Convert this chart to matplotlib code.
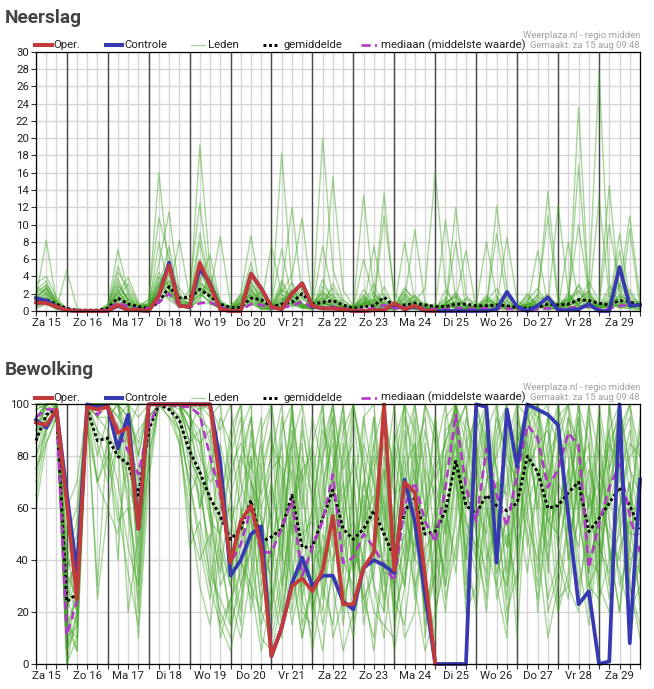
import numpy as np
import matplotlib
matplotlib.use('Agg')
import matplotlib.pyplot as plt
from matplotlib.lines import Line2D

plt.rcParams['font.family'] = ['Roboto', 'DejaVu Sans']

W, H = 654, 689

# ---------------- data ----------------
# time axis: 6-hourly steps, hours since Za 15 00:00, first value at 06:00
STEP_H = 6
START_H = 6
day_labels = ['Za 15', 'Zo 16', 'Ma 17', 'Di 18', 'Wo 19', 'Do 20', 'Vr 21', 'Za 22',
              'Zo 23', 'Ma 24', 'Di 25', 'Wo 26', 'Do 27', 'Vr 28', 'Za 29']

# Neerslag (mm)
neerslag_oper = [1.0,0.9,0.5, 0.1,0,0,0, 0,0.7,0.1,0.1, 0,1.8,5.3,0.6, 0.5,5.6,3.0,0.2,
                 0,0,4.3,2.6, 0.5,0.2,2.0,3.2, 0.6,0.3,0.3,0.2, 0,0,0.1,0.1, 0.9,0.2,0.6,0.05, 0]
neerslag_controle = [1.5,1.2,0.5, 0.1,0,0,0, 0,0.6,0.1,0.1, 0,1.8,5.6,0.6, 0.5,4.9,3.2,0.2,
                     0,0,4.3,2.6, 0.5,0.2,2.0,3.2, 0.5,0.3,0.3,0.2, 0,0,0.1,0.1, 0.8,0.2,0.5,0.05,
                     0,0,0,0, 0,0,0.2,2.2, 0.5,0,0.6,1.6, 0.1,0.1,0.2,0.8, 0,0,5.1,0.6, 0.7]
neerslag_gemiddelde = [1.1,1.3,0.8, 0.3,0.1,0.1,0.1, 0.3,1.5,0.8,0.5, 0.3,1.0,2.8,1.5, 1.6,2.5,1.7,0.8,
                       0.4,0.4,1.5,1.3, 0.5,0.8,1.0,2.0, 0.8,1.0,1.2,0.7, 0.3,0.5,0.6,1.6, 0.5,0.7,0.9,0.7,
                       0.5,0.5,0.8,0.8, 0.6,0.6,0.7,0.6, 0.4,0.3,0.4,0.8, 0.7,0.8,1.3,1.2, 0.9,0.7,1.2,1.1, 0.6]
neerslag_mediaan = [0.8,1.0,0.4, 0.1,0,0,0, 0.2,1.0,0.5,0.2, 0.3,1.0,2.0,0.7, 0.4,0.9,1.0,0.5,
                    0.1,0.1,0.8,0.7, 0.3,0.4,0.6,1.1, 0.4,0.4,0.5,0.3, 0.1,0.2,0.3,0.7, 0.3,0.4,0.5,0.3,
                    0.2,0.2,0.3,0.3, 0.2,0.3,0.3,0.3, 0.1,0.1,0.2,0.3, 0.2,0.3,0.5,0.5, 0.2,0.3,0.6,0.7, 0.6]
neerslag_leden = [
    [0.8,2.1,0.5, 0,0,0,0, 0.3,1.8,0.6,0.2, 0.5,3.2,4.8,1.1, 0.8,4.2,2.6,0.4, 0.1,1.2,2.8,0.6, 0.2,1.5,0.8,0.3, 0.6,2.4,1.2,0.2, 0.1,0.8,3.1,0.5, 0.2,1.1,0.4,0.1, 0,0.4,1.2,7.0, 0.2,0.6,0.3,0.1, 0.4,1.8,0.6,0.2, 0.3,0.9,2.2,0.8, 0.2,0.5,7.0,0.4, 0.6],
    [1.5,8.2,1.0, 0.2,0,0,0, 0.1,2.6,1.2,0.3, 0.8,16.0,4.1,0.6, 0.3,2.1,1.0,0.2, 0,0.6,1.4,0.3, 0.1,3.2,1.1,0.5, 0.2,1.8,0.6,0.1, 0.3,2.5,0.9,0.2, 0.1,0.6,0.2,0, 0.2,1.6,0.5,0.3, 0.1,0.4,1.2,0.2, 0.3,0.9,0.3,0.1, 0.4,2.1,0.6,0.3, 0.5,1.4,0.4,9.5, 0.3],
    [2.4,3.5,0.9, 0.1,0,0,0, 0.4,7.1,2.2,0.6, 1.2,5.4,11.5,2.0, 0.7,19.2,4.6,1.1, 0.3,2.0,8.7,1.6, 0.5,18.3,3.0,0.8, 0.4,3.6,1.2,0.3, 0.2,1.4,0.5,0.6, 0.3,2.5,1.5,0.4, 0.2,0.8,0.4,0.1, 0.3,1.1,2.6,0.6, 0.2,0.5,1.9,1.0, 0.4,0.6,23.6,2.0, 0.6,0.3,0.8,0.5, 0.2],
    [1.2,2.8,0.7, 0,0,0.1,0, 0.2,1.4,3.2,0.8, 0.4,2.6,7.5,1.5, 1.3,3.5,6.5,0.9, 0.2,0.8,2.1,1.1, 0.3,2.2,4.1,10.8, 0.9,1.5,0.4,0.2, 0.6,1.2,0.3,2.8, 0.4,1.3,9.4,1.0, 0.3,0.6,2.2,0.5, 0.1,0.3,0.9,0.4, 0.2,1.2,2.6,0.7, 0.5,1.8,0.9,3.4, 1.1,14.5,1.6,0.4, 0.9],
    [3.2,4.0,1.6, 0.2,0,0,0, 0.6,3.8,1.0,0.3, 0.9,4.5,2.8,0.7, 2.4,12.5,3.1,0.5, 0.1,1.7,0.9,0.2, 0.4,1.0,2.5,0.6, 0.3,20.0,4.8,1.2, 0.5,0.9,0.4,1.6, 0.2,0.7,1.8,0.6, 0.1,2.4,0.6,0.2, 0.5,1.3,0.4,0.9, 0.3,0.8,0.5,1.4, 0.6,0.4,1.2,2.3, 0.8,10.0,2.4,0.7, 0.4],
    [0.5,1.4,0.3, 4.7,0.3,0,0, 0,1.1,0.4,0.1, 0.3,1.8,3.6,0.8, 0.5,2.9,1.7,0.6, 0.2,0.4,3.4,0.9, 0.6,2.8,12.0,1.9, 0.2,0.9,0.5,0.2, 0.1,0.6,0.9,13.6, 1.2,0.4,0.2,0.5, 0.2,0.9,1.7,0.4, 0.2,0.6,1.4,0.3, 0.5,2.0,0.7,0.3, 0.2,8.0,1.1,0.6, 0.3,1.2,0.6,2.1, 0.5],
    [1.8,2.6,0.8, 0.1,0,0,0, 0.5,5.2,1.8,0.2, 0.6,3.9,2.4,1.2, 0.9,3.3,2.2,8.6, 0.7,1.5,1.8,0.4, 0.3,0.9,1.6,0.7, 0.4,1.2,2.6,0.8, 0.5,13.4,2.1,0.4, 0.3,1.8,0.6,0.2, 0.4,0.7,0.3,1.3, 0.6,0.2,0.5,1.9, 0.2,0.6,0.4,0.8, 0.3,1.5,10.0,1.8, 0.4,0.9,0.3,0.6, 0.8],
    [0.9,1.7,0.4, 0,0,0,0, 0.2,0.9,0.5,0.4, 1.4,10.8,6.2,0.9, 0.4,5.6,1.4,0.3, 0.2,0.9,1.1,0.7, 0.2,1.4,0.6,2.3, 0.5,7.5,1.8,0.4, 0.2,0.5,1.8,0.9, 0.5,0.3,1.1,2.6, 16.1,2.8,0.6,0.2, 0.3,0.9,0.2,0.5, 0.6,0.3,1.6,0.9, 0.4,0.8,2.9,0.7, 13.0,1.6,0.5,0.2, 0.1],
    [2.0,3.1,1.1, 0.3,0,0,0, 0.3,4.5,2.6,0.7, 0.8,2.0,1.6,0.4, 1.1,9.0,2.8,0.8, 0.4,1.1,2.5,0.8, 7.6,1.9,0.7,0.4, 0.3,0.6,3.2,0.9, 0.4,1.9,0.6,0.2, 0.6,2.2,0.8,0.3, 0.1,0.5,12.0,1.8, 0.4,1.6,0.7,0.2, 0.3,1.1,0.5,0.6, 0.2,0.5,1.4,0.9, 0.6,2.8,1.1,0.4, 0.3],
    [0.6,1.0,0.2, 0,0,0,0, 0.1,0.7,0.3,0.1, 0.4,8.0,2.5,0.6, 0.2,1.6,3.8,0.5, 0.3,1.4,5.6,1.2, 0.4,0.7,1.9,0.6, 0.8,1.6,15.5,2.4, 0.6,0.8,1.3,0.3, 0.1,0.9,0.3,0.6, 0.8,0.3,0.9,0.2, 0.2,0.8,0.4,1.2, 0.4,0.7,1.3,13.8, 1.5,0.6,0.4,1.1, 0.5,0.3,1.9,0.8, 0.6],
    [1.1,2.3,0.6, 0,0,0,0, 0.6,2.1,0.9,0.2, 0.5,3.4,2.1,8.2, 1.6,2.4,0.8,0.3, 0.1,0.5,0.8,0.4, 0.2,1.1,2.4,0.9, 0.3,1.1,0.4,0.6, 0.3,6.0,1.5,0.6, 0.3,0.6,0.3,0.8, 0.3,1.1,0.4,0.7, 0.4,0.3,12.2,2.6, 0.3,0.4,0.9,0.6, 0.7,1.1,0.5,0.4, 0.3,0.8,2.6,11.0, 1.4],
    [0.4,0.9,0.3, 0.1,0,0,0, 0.4,1.6,0.8,0.3, 0.7,2.9,5.1,1.0, 0.6,8.0,2.0,0.6, 0.3,0.9,2.6,0.5, 1.0,7.2,1.3,0.4, 0.2,0.7,1.4,0.5, 0.2,1.0,0.6,11.0, 2.1,0.5,0.2,0.3, 0.5,0.2,0.8,0.3, 0.3,0.5,0.8,8.5, 1.2,0.4,0.6,0.3, 0.6,0.3,0.8,1.4, 0.4,0.6,3.2,0.9, 0.5],
    [1.6,1.2,0.4, 0,0,0,0, 0.2,1.3,0.5,0.2, 0.6,1.9,3.0,0.6, 0.5,1.2,0.8,0.9, 0.4,1.9,1.2,0.3, 0.1,0.6,1.4,0.5, 0.4,0.8,0.6,0.3, 0.1,0.4,7.5,1.2, 0.4,0.8,0.5,0.2, 0.3,0.6,0.2,0.4, 0.7,8.0,1.6,0.3, 0.2,0.5,0.3,0.7, 12.2,2.0,0.6,0.3, 0.9,0.4,0.7,0.5, 0.2],
    [0.7,1.5,0.5, 0,0.2,0,0, 0.4,2.9,1.4,0.5, 0.9,2.2,1.3,0.5, 0.6,3.8,1.2,0.4, 0.6,0.8,1.6,0.6, 0.3,2.6,0.9,0.3, 0.2,1.4,0.8,0.4, 0.3,0.7,1.2,0.5, 0.3,8.0,1.2,0.4, 0.2,0.4,0.6,0.2, 0.3,0.6,9.0,1.1, 0.4,0.2,0.8,0.5, 0.3,0.9,16.9,1.6, 0.7,1.1,0.4,0.3, 0.7],
    [2.8,2.0,0.9, 0.2,0,0,0, 0.8,3.4,1.1,0.4, 0.3,1.5,2.0,0.8, 0.4,2.6,1.8,0.2, 0.2,0.7,2.0,0.5, 0.4,1.6,0.5,0.8, 0.5,0.9,0.7,0.2, 0.2,0.9,0.5,0.3, 0.2,0.4,0.7,0.3, 0.6,10.5,1.4,0.5, 0.2,0.4,0.6,0.3, 0.5,0.8,1.8,11.0, 0.9,0.4,0.6,0.9, 0.4,0.7,9.0,1.3, 0.8],
    [1.3,1.9,0.7, 0,0,0,0, 0.2,2.4,0.7,0.2, 0.5,2.4,1.8,0.9, 0.9,1.9,1.1,0.4, 0.1,0.4,1.0,0.2, 0.2,1.2,2.0,0.6, 0.6,2.1,0.9,0.5, 0.4,1.6,0.4,0.2, 0.5,0.2,0.9,0.4, 0.4,0.6,8.0,0.3, 0.5,0.2,0.4,0.7, 0.3,0.6,7.0,0.8, 0.4,0.7,1.2,2.4, 27.7,3.1,0.8,0.6, 1.0],
    [1.0,1.6,0.6, 0,0,0,0, 0.3,1.2,2.0,0.4, 0.6,2.2,3.4,1.8, 0.6,2.7,1.9,0.8, 0.2,1.0,1.8,0.9, 0.4,1.9,1.3,0.6, 0.3,1.1,2.0,0.5, 0.2,0.7,1.4,0.9, 0.4,1.5,0.6,0.3, 0.2,0.9,1.6,0.4, 0.6,1.2,0.5,0.3, 0.2,0.7,1.1,0.9, 0.5,1.6,0.8,2.0, 0.6,1.0,1.4,0.6, 0.9],
    [2.1,3.0,1.3, 0.1,0,0,0, 0.4,2.2,0.8,0.3, 0.3,1.5,4.2,2.6, 1.2,3.1,2.4,0.5, 0.3,0.6,3.0,1.9, 0.2,0.8,2.2,1.5, 0.7,1.4,0.6,0.4, 0.3,1.7,0.8,1.1, 0.6,0.9,1.8,0.5, 0.3,0.5,1.0,0.8, 0.3,0.9,1.7,0.6, 0.4,1.5,0.6,0.3, 0.8,1.3,2.4,1.0, 0.3,0.6,1.7,1.2, 0.4],
    [0.3,0.8,0.2, 0,0,0,0, 0.1,0.5,1.4,0.6, 0.2,1.1,2.2,0.9, 0.3,1.4,3.3,1.2, 0.5,0.4,1.2,2.2, 0.8,0.5,1.5,2.6, 1.1,0.5,0.9,1.3, 0.4,0.3,1.1,2.0, 0.8,0.5,1.3,0.9, 0.4,0.7,0.3,1.5, 0.9,0.4,0.8,1.6, 0.6,0.3,0.9,0.5, 1.1,0.6,1.5,0.9, 0.4,1.8,0.9,0.5, 1.2],
    [1.7,2.5,0.8, 0.2,0,0,0, 0.5,3.0,1.5,0.3, 0.4,2.8,5.6,1.3, 0.9,4.6,2.9,0.7, 0.3,1.3,3.6,1.0, 0.6,2.4,1.8,0.7, 0.2,2.9,1.6,0.4, 0.6,1.3,0.7,0.5, 0.3,1.9,0.9,0.5, 0.5,1.3,0.4,0.6, 0.2,1.4,0.8,0.5, 0.7,0.4,1.2,1.9, 0.6,0.9,3.1,1.3, 0.5,2.2,0.9,0.8, 0.5],
    [0.9,1.3,0.4, 0,0,0,0, 0.2,1.6,0.6,0.2, 0.8,4.0,2.9,0.8, 0.5,6.0,2.2,0.9, 0.1,0.9,4.8,0.7, 0.3,1.0,3.3,1.4, 0.5,1.0,0.5,0.3, 0.4,0.9,2.2,0.7, 0.2,1.4,0.7,0.4, 0.3,0.8,1.9,0.5, 0.4,0.7,0.4,1.3, 0.3,0.8,0.6,0.4, 0.3,1.2,0.7,0.5, 0.8,0.4,1.3,2.5, 0.6],
    [1.4,2.7,1.0, 0,0,0,0, 0.6,2.0,3.9,1.0, 0.5,3.0,2.1,0.5, 0.7,1.8,4.1,0.6, 0.2,0.5,2.3,1.4, 0.7,3.6,1.2,0.5, 0.9,2.1,1.1,0.6, 0.2,1.1,0.6,0.9, 0.5,2.7,1.1,0.3, 0.1,0.6,1.1,0.6, 0.5,1.8,0.6,0.2, 0.3,0.5,0.8,1.5, 0.7,1.4,0.8,1.7, 0.2,0.9,0.5,1.6, 0.9],
]

# Bewolking (%)
bewolking_oper = [93,92,98, 62,25,99,98, 99,89,91,52, 100,100,100,100, 100,100,100,69,
                  39,55,61,45, 3,14,30,33, 28,36,57,23, 23,37,43,100, 36,70,66,34, 0]
bewolking_controle = [94,91,98, 66,35,100,99, 99,83,96,52, 100,100,100,100, 100,100,100,78,
                      34,40,50,53, 3,14,31,41, 30,34,34,24, 21,37,40,38, 35,71,55,27,
                      0,0,0,0, 100,99,39,98, 76,100,98,96, 92,57,23,28, 0,1,100,8, 71]
bewolking_gemiddelde = [86,96,98, 24,27,98,86, 87,80,77,65, 90,100,98,94, 82,74,64,57,
                        48,52,63,47, 49,52,65,45, 45,56,67,52, 48,52,59,50, 41,59,64,50,
                        51,59,78,61, 58,65,61,59, 62,80,74,60, 61,66,70,51, 56,62,68,61, 52]
bewolking_mediaan = [95,98,98, 11,24,100,96, 100,90,82,73, 92,100,100,99, 99,96,80,65,
                     39,46,60,43, 43,52,63,34, 45,55,73,39, 41,50,45,38, 32,61,70,55,
                     47,68,96,68, 55,83,65,53, 73,92,87,68, 75,89,84,37, 54,68,77,57, 43]
bewolking_leden = [
    [90,100,100, 10,30,100,95, 100,92,85,40, 95,100,100,100, 96,85,60,40, 20,55,80,30, 45,70,85,20, 15,60,90,40, 30,70,95,55, 20,75,85,40, 60,80,100,70, 40,90,75,30, 70,100,95,50, 85,60,95,30, 40,80,100,65, 35],
    [70,95,100, 5,15,100,100, 100,100,70,20, 100,100,100,98, 100,95,80,55, 60,30,45,90, 100,60,30,75, 80,35,70,100, 60,20,45,80, 55,30,60,100, 85,40,90,100, 60,30,85,100, 40,90,60,85, 100,40,75,20, 60,30,85,100, 70],
    [100,100,95, 0,20,98,30, 90,40,100,75, 85,100,100,90, 70,50,30,60, 85,100,40,15, 30,10,55,90, 70,100,45,60, 100,75,30,10, 45,90,50,20, 35,75,100,40, 90,100,55,70, 100,60,30,75, 50,90,60,100, 80,45,20,60, 90],
    [95,100,100, 30,40,100,100, 100,100,95,85, 100,100,100,100, 90,100,98,80, 45,20,70,60, 15,35,100,55, 25,5,40,85, 40,55,85,100, 70,40,95,60, 25,55,80,20, 30,60,40,85, 55,100,100,70, 90,100,80,45, 100,75,95,30, 10],
    [80,90,100, 20,5,95,70, 80,55,60,10, 70,100,95,85, 60,30,15,45, 30,75,95,65, 80,100,60,25, 50,80,100,30, 10,45,60,35, 5,30,70,100, 90,60,35,75, 100,80,25,40, 80,45,70,95, 25,30,75,85, 20,100,70,90, 60],
    [100,98,100, 60,70,100,98, 100,95,100,95, 100,100,100,100, 100,100,95,100, 70,90,100,35, 60,85,40,10, 35,20,65,90, 100,80,60,95, 75,100,30,5, 20,45,100,90, 50,35,100,60, 90,70,45,10, 30,55,100,60, 70,90,55,20, 40],
    [60,85,95, 15,25,100,80, 95,100,85,55, 100,100,100,95, 80,70,40,20, 10,40,30,5, 25,50,75,45, 60,90,80,20, 45,30,5,40, 30,85,100,75, 65,30,55,85, 70,95,60,20, 35,80,100,55, 60,75,40,15, 50,65,100,75, 55],
    [98,100,100, 40,35,100,100, 100,95,90,100, 100,100,100,100, 95,80,70,75, 55,65,85,75, 90,30,60,85, 40,45,10,25, 65,95,100,60, 40,10,20,55, 80,100,70,45, 20,55,90,100, 100,95,85,40, 75,90,55,35, 95,40,60,85, 80],
    [92,100,100, 25,45,100,90, 85,70,45,30, 90,100,98,100, 85,90,60,30, 40,15,60,85, 50,95,70,35, 5,30,55,65, 75,15,40,70, 100,60,40,85, 45,20,60,95, 80,45,30,60, 10,75,95,100, 45,65,90,70, 30,20,45,55, 25],
    [85,95,100, 0,10,100,100, 100,100,100,60, 100,100,100,100, 100,60,75,95, 85,60,20,50, 70,40,90,60, 95,75,30,5, 20,60,80,30, 60,95,80,10, 50,90,95,30, 65,80,60,45, 85,100,55,25, 40,25,60,95, 65,85,95,40, 45],
    [100,100,100, 10,15,100,100, 100,100,100,100, 100,100,100,100, 100,98,100,90, 100,70,55,40, 35,65,95,70, 85,55,95,50, 25,95,70,50, 85,65,100,70, 30,65,100,85, 95,75,50,90, 65,85,20,60, 100,80,30,50, 85,55,35,20, 30],
    [75,90,100, 35,50,100,70, 60,50,80,90, 95,100,100,85, 55,40,50,10, 25,35,65,20, 10,30,55,15, 30,70,85,45, 55,40,20,15, 10,55,75,30, 55,30,70,55, 45,25,70,35, 60,90,100,80, 55,70,95,40, 35,70,85,95, 65],
    [95,100,100, 5,20,100,100, 100,100,100,30, 100,100,100,100, 90,85,90,70, 35,50,90,60, 75,80,25,40, 20,65,100,75, 85,50,95,45, 30,45,85,60, 75,85,100,65, 55,70,80,95, 75,55,40,70, 95,100,100,55, 45,35,60,80, 85],
    [88,100,100, 45,20,100,85, 70,85,65,25, 80,100,100,100, 75,65,45,85, 65,40,25,75, 55,20,45,95, 60,25,50,70, 35,70,55,75, 50,80,40,35, 10,80,90,60, 75,100,45,15, 50,75,85,90, 65,45,70,80, 55,100,65,50, 50],
    [100,100,100, 50,60,100,100, 100,100,100,80, 100,100,100,95, 65,75,55,50, 75,85,75,95, 20,55,80,50, 55,95,70,35, 70,35,75,90, 65,70,55,20, 40,70,85,50, 35,90,100,75, 45,65,90,35, 80,85,65,55, 75,60,80,35, 60],
    [65,90,95, 15,10,100,25, 60,85,20,50, 75,100,95,90, 45,55,35,25, 15,30,50,10, 5,25,65,30, 45,35,60,15, 50,25,35,65, 15,40,60,55, 70,50,95,35, 25,65,35,50, 30,60,75,65, 20,35,85,30, 25,40,50,70, 20],
    [95,100,100, 20,35,95,100, 100,100,90,70, 100,100,100,100, 100,100,85,65, 50,80,70,45, 85,75,50,80, 65,40,75,95, 40,65,30,20, 85,100,70,50, 95,60,40,75, 60,50,70,65, 95,80,65,45, 70,60,45,75, 60,85,75,45, 75],
    [90,100,100, 35,25,100,95, 90,80,95,65, 100,100,100,100, 85,70,65,50, 30,45,80,55, 40,60,100,25, 10,50,40,55, 80,55,65,35, 35,50,30,45, 50,35,75,60, 85,60,45,55, 25,100,70,55, 50,95,75,35, 60,50,40,65, 55],
    [85,100,100, 15,5,100,100, 100,100,80,45, 100,100,100,100, 95,90,55,35, 65,80,95,40, 20,45,85,100, 75,30,15,50, 95,60,40,75, 20,35,80,95, 60,25,45,70, 100,85,40,30, 55,100,90,20, 35,75,100,85, 40,65,90,30, 15],
    [100,100,100, 40,55,100,100, 100,90,60,35, 100,100,100,100, 100,100,60,15, 25,10,35,70, 90,55,20,45, 85,100,60,25, 40,85,70,20, 60,100,90,15, 35,95,100,75, 50,20,65,85, 100,70,35,80, 90,40,55,100, 30,75,90,100, 80],
    [90,95,100, 5,30,100,95, 95,100,100,80, 100,100,100,100, 90,75,30,15, 5,25,45,80, 100,70,35,10, 30,80,95,60, 15,40,85,55, 90,70,25,60, 95,50,85,40, 80,100,75,45, 60,35,70,95, 85,100,60,25, 70,45,20,55, 95],
    [75,85,95, 20,45,90,70, 85,60,35,15, 80,100,100,90, 70,45,25,50, 80,95,55,25, 45,15,60,75, 20,40,75,100, 55,25,10,45, 80,55,45,75, 20,40,75,25, 65,90,30,10, 90,85,60,40, 20,55,80,60, 95,70,30,45, 35],
    [98,100,100, 25,15,100,100, 100,100,95,60, 100,100,100,100, 100,95,90,60, 90,100,70,55, 30,90,100,65, 40,15,35,80, 100,75,50,25, 45,30,65,90, 70,85,100,55, 40,70,95,80, 70,50,25,60, 75,95,85,40, 55,90,100,75, 65],
    [80,95,100, 30,20,100,90, 75,90,70,55, 95,100,100,100, 85,60,80,45, 15,60,30,20, 70,45,15,35, 60,85,100,70, 35,50,60,85, 25,15,50,35, 55,75,90,100, 70,40,55,25, 85,95,100,70, 45,30,20,65, 50,25,55,70, 40],
]

# ---------------- styling ----------------
C_OPER = '#c23a3a'
C_CTRL = '#3639b0'
C_MED = '#b238c8'
C_LEDEN = '#42a524'
C_GRID = '#d6d6d6'
C_DAY = '#4a4a4a'
C_TEXT = '#222222'


def fx(px):
    return px / W


def fy(py):
    return 1 - py / H


fig = plt.figure(figsize=(W / 100, H / 100), dpi=100)
fig.patch.set_facecolor('white')


def xs(series):
    return START_H + STEP_H * np.arange(len(series))


def make_panel(top_px, bottom_px, title, leden, gem, med, ctrl, oper, ymax, ystep):
    ax = fig.add_axes([fx(36), fy(bottom_px), (640 - 36) / W, (bottom_px - top_px) / H])
    for m in leden:
        ax.plot(xs(m), m, color=C_LEDEN, lw=1.0, alpha=0.45, zorder=2, clip_on=False)
    ax.plot(xs(gem), gem, color='black', lw=2.1, linestyle=(0, (1, 0.9)), zorder=4, clip_on=False)
    ax.plot(xs(med), med, color=C_MED, lw=1.9, linestyle=(0, (3, 1.8)), zorder=5, clip_on=False)
    ax.plot(xs(ctrl), ctrl, color=C_CTRL, lw=2.7, zorder=6, clip_on=False)
    ax.plot(xs(oper), oper, color=C_OPER, lw=2.7, zorder=7, clip_on=False)

    t_end = START_H + STEP_H * (len(ctrl) - 1)
    ax.set_xlim(START_H, t_end)
    ax.set_ylim(0, ymax)
    ax.set_yticks(np.arange(0, ymax + 0.1, ystep))
    noons = [12 + 24 * d for d in range(len(day_labels))]
    ax.set_xticks(noons, day_labels)
    ax.set_xticks(np.arange(START_H, t_end + 1, STEP_H), minor=True)
    ax.grid(True, which='both', axis='x', color=C_GRID, lw=1.0, zorder=0)
    ax.grid(True, which='major', axis='y', color=C_GRID, lw=1.0, zorder=0)
    ax.set_axisbelow(True)
    for d in range(24, int(t_end), 24):
        ax.axvline(d, color=C_DAY, lw=1.0, zorder=1)
    ax.tick_params(axis='both', which='both', direction='out', length=3.6, width=0.8,
                   color='#333333', labelsize=8.2, labelcolor=C_TEXT, pad=1.5)
    for s in ax.spines.values():
        s.set_color('black')
        s.set_linewidth(0.9)
        s.set_zorder(8)

    # title
    fig.text(fx(5), fy(top_px - 34), title, fontsize=13.8, fontweight='bold',
             color='#444444', va='center', ha='left')
    # legend row
    ly = top_px - 6.6
    fig.add_artist(Line2D([fx(35), fx(52)], [fy(ly), fy(ly)], color=C_OPER, lw=2.9))
    fig.text(fx(53.5), fy(ly), 'Oper.', fontsize=8.2, color=C_TEXT, va='center')
    fig.add_artist(Line2D([fx(106), fx(122)], [fy(ly), fy(ly)], color=C_CTRL, lw=2.9))
    fig.text(fx(124), fy(ly), 'Controle', fontsize=8.2, color=C_TEXT, va='center')
    fig.add_artist(Line2D([fx(191), fx(205)], [fy(ly), fy(ly)], color='#a5d196', lw=0.9))
    fig.text(fx(208), fy(ly), 'Leden', fontsize=8.2, color=C_TEXT, va='center')
    fig.add_artist(Line2D([fx(263), fx(279)], [fy(ly), fy(ly)], color='black', lw=2.1,
                          linestyle=(0, (1, 0.9))))
    fig.text(fx(283), fy(ly), 'gemiddelde', fontsize=8.2, color=C_TEXT, va='center')
    fig.add_artist(Line2D([fx(361), fx(378)], [fy(ly), fy(ly)], color=C_MED, lw=1.9,
                          linestyle=(0, (3.5, 1.6, 0.8, 1.6))))
    fig.text(fx(381), fy(ly), 'mediaan (middelste waarde)', fontsize=8.2, color=C_TEXT, va='center')
    # source info
    fig.text(fx(640), fy(ly - 10), 'Weerplaza.nl - regio midden', fontsize=6.8,
             color='#a0a0a0', va='center', ha='right')
    fig.text(fx(640), fy(ly), 'Gemaakt: za 15 aug 09:48', fontsize=6.8,
             color='#a0a0a0', va='center', ha='right')
    return ax


make_panel(51.7, 311.0, 'Neerslag', neerslag_leden, neerslag_gemiddelde, neerslag_mediaan,
           neerslag_controle, neerslag_oper, 30, 2)
make_panel(404.3, 664.0, 'Bewolking', bewolking_leden, bewolking_gemiddelde, bewolking_mediaan,
           bewolking_controle, bewolking_oper, 100, 20)

fig.savefig('out.png', dpi=100, facecolor='white')
